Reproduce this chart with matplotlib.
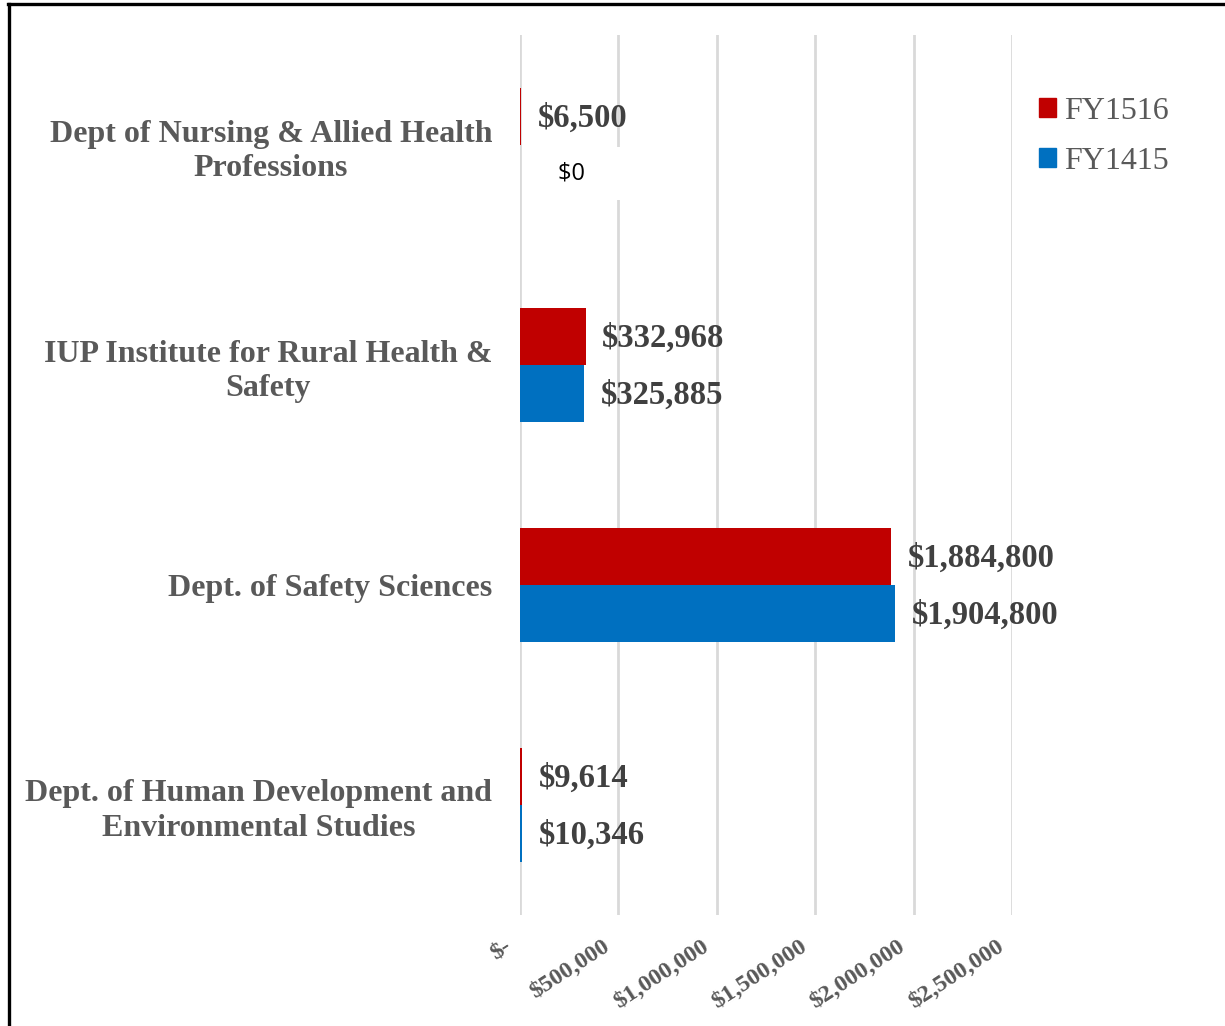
import matplotlib
matplotlib.use('Agg')
import matplotlib.pyplot as plt
from matplotlib.patches import Patch
from matplotlib.lines import Line2D
from matplotlib.transforms import ScaledTranslation
import numpy as np

plt.rcParams['text.parse_math'] = False
plt.rcParams['font.family'] = 'Liberation Serif'

# Chart data
departments = [
    "Dept of Nursing & Allied Health\nProfessions",
    "IUP Institute for Rural Health &\nSafety",
    "Dept. of Safety Sciences",
    "Dept. of Human Development and\nEnvironmental Studies",
]
fy1516 = [6500, 332968, 1884800, 9614]
fy1415 = [0, 325885, 1904800, 10346]
x_ticks = [0, 500000, 1000000, 1500000, 2000000, 2500000]
x_tick_labels = ["$-", "$500,000", "$1,000,000", "$1,500,000", "$2,000,000", "$2,500,000"]

red = '#C00000'
blue = '#0070C0'
gray_text = '#595959'
label_text = '#404040'

fig = plt.figure(figsize=(12.25, 10.26), dpi=100)
ax = fig.add_axes([520 / 1225, 1 - 915 / 1026, (1012 - 520) / 1225, 880 / 1026])

y = np.arange(len(departments))
h = 0.26
ax.barh(y - h / 2, fy1516, height=h, color=red, zorder=2)
ax.barh(y + h / 2, fy1415, height=h, color=blue, zorder=2)

ax.set_xlim(0, 2500000)
ax.set_ylim(len(departments) - 0.5, -0.5)

ax.set_yticks(y)
ax.set_yticklabels(departments, fontsize=23, fontweight='bold', color=gray_text,
                   multialignment='center', linespacing=1.25)
ax.tick_params(axis='both', length=0)
ax.tick_params(axis='y', pad=20)
ax.tick_params(axis='x', pad=20)

ax.set_xticks(x_ticks)
ax.set_xticklabels(x_tick_labels, rotation=33, ha='right', va='top',
                   rotation_mode='anchor', fontsize=17.5, fontweight='bold',
                   color=gray_text)
# nudge the slanted labels to the left, like the original
shift = ScaledTranslation(-16 / 100, 7 / 100, fig.dpi_scale_trans)
for lab in ax.get_xticklabels():
    lab.set_transform(lab.get_transform() + shift)

ax.grid(axis='x', color='#D9D9D9', linewidth=2, zorder=0)
ax.set_axisbelow(True)
for s in ax.spines.values():
    s.set_visible(False)

# value labels
for i in range(len(departments)):
    ax.annotate(f"${fy1516[i]:,}", (fy1516[i], y[i] - h / 2), xytext=(12, -1.5),
                textcoords='offset points', va='center', ha='left',
                fontsize=23.5, fontweight='bold', color=label_text, zorder=3)
    if fy1415[i] == 0:
        ax.annotate(f"${fy1415[i]:,}" + "\u2007" * 5, (fy1415[i], y[i] + h / 2),
                    xytext=(27, 0), textcoords='offset points', va='center',
                    ha='left', fontsize=17, color='black',
                    family=['Open Sans', 'DejaVu Sans'], zorder=3,
                    bbox=dict(boxstyle='square,pad=0.6', fc='white', ec='none'))
    else:
        ax.annotate(f"${fy1415[i]:,}", (fy1415[i], y[i] + h / 2), xytext=(12, -1.5),
                    textcoords='offset points', va='center', ha='left',
                    fontsize=23.5, fontweight='bold', color=label_text, zorder=3)

handles = [Patch(color=red, label='FY1516'), Patch(color=blue, label='FY1415')]
leg = fig.legend(handles=handles, loc='upper left',
                 bbox_to_anchor=(1010 / 1225, 1 - 68 / 1026), frameon=False,
                 fontsize=23, handlelength=0.55, handleheight=0.55,
                 handletextpad=0.25, labelspacing=0.65)
for t in leg.get_texts():
    t.set_color(gray_text)

# frame lines on the left and top
fig.add_artist(Line2D([8.5 / 1225, 8.5 / 1225], [0, 1 - 3.5 / 1026],
                      transform=fig.transFigure, color='black', linewidth=2.4))
fig.add_artist(Line2D([7.5 / 1225, 1], [1 - 4 / 1026, 1 - 4 / 1026],
                      transform=fig.transFigure, color='black', linewidth=2.4))

fig.savefig('out.png', dpi=100)
